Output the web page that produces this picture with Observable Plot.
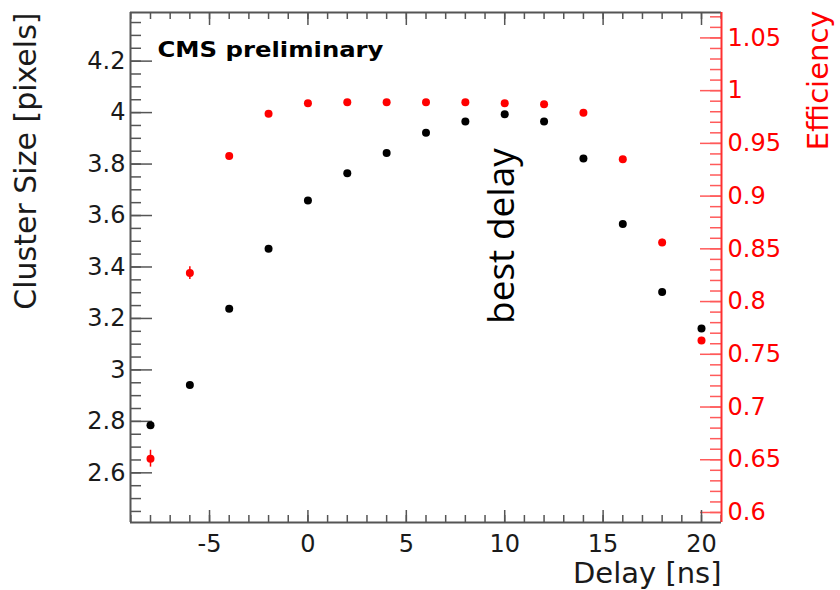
<!DOCTYPE html>
<html>
<head>
<meta charset="utf-8">
<script src="https://cdn.jsdelivr.net/npm/d3@7"></script>
<script src="https://cdn.jsdelivr.net/npm/@observablehq/plot@0.6"></script>
<style>
  html, body { margin: 0; padding: 0; background: #ffffff; }
  #chart { width: 840px; height: 590px; }
</style>
</head>
<body>
<div id="chart"></div>
<script>
// ---- data ----
const delay = [-8, -6, -4, -2, 0, 2, 4, 6, 8, 10, 12, 14, 16, 18, 20];
const clusterSize = [2.785, 2.941, 3.238, 3.471, 3.658, 3.764, 3.843, 3.922, 3.965, 3.994, 3.965, 3.822, 3.567, 3.303, 3.161];
const efficiency = [0.651, 0.827, 0.938, 0.978, 0.988, 0.989, 0.989, 0.989, 0.989, 0.988, 0.987, 0.979, 0.935, 0.856, 0.763];
const efficiencyErr = [0.008, 0.006, 0.002, 0.001, 0, 0, 0, 0, 0, 0, 0, 0.001, 0.002, 0.003, 0.003];

// ---- axes ----
const xDomain = [-9.016, 21.016];
const clusterDomain = [2.407, 4.389];
const effDomain = [0.5905, 1.0741];
const xTicks = [-5, 0, 5, 10, 15, 20];
const xTickLabels = ["-5", "0", "5", "10", "15", "20"];
const clusterTicks = [2.6, 2.8, 3, 3.2, 3.4, 3.6, 3.8, 4, 4.2];
const clusterTickLabels = ["2.6", "2.8", "3", "3.2", "3.4", "3.6", "3.8", "4", "4.2"];
const effTicks = [0.6, 0.65, 0.7, 0.75, 0.8, 0.85, 0.9, 0.95, 1, 1.05];
const effTickLabels = ["0.6", "0.65", "0.7", "0.75", "0.8", "0.85", "0.9", "0.95", "1", "1.05"];
const xTitle = ["Delay [ns]"];
const yTitle = ["Cluster Size [pixels]"];
const effTitle = ["Efficiency"];
const cmsLabel = ["CMS preliminary"];
const annotation = [{label: "best delay", delay: 10.45, size: 3.52}];

// minor tick positions (axis decoration)
const xMinor = d3.range(-9, 22, 1);
const clusterMinor = d3.range(2.45, 4.389, 0.05).map(v => +v.toFixed(2));
const effMinor = d3.range(0.6, 1.0741, 0.01).map(v => +v.toFixed(2));

// map efficiency onto the cluster-size scale (secondary axis)
const effToY = e => clusterDomain[0] + (e - effDomain[0]) * (clusterDomain[1] - clusterDomain[0]) / (effDomain[1] - effDomain[0]);

const points = delay.map((d, i) => ({
  delay: d,
  size: clusterSize[i],
  eff: efficiency[i],
  effLo: efficiency[i] - efficiencyErr[i],
  effHi: efficiency[i] + efficiencyErr[i]
}));

const W = 840, H = 590;
const mL = 130, mR = 119, mT = 12, mB = 68;
const PW = W - mL - mR, PH = H - mT - mB;
const axisGray = "#555555";
const red = "#ff0000";

const chart = Plot.plot({
  width: W,
  height: H,
  marginLeft: mL,
  marginRight: mR,
  marginTop: mT,
  marginBottom: mB,
  x: {domain: xDomain, axis: null},
  y: {domain: clusterDomain, axis: null},
  style: {fontFamily: "DejaVu Sans", background: "#ffffff", color: "#111"},
  marks: [
    // ticks: left (inward)
    Plot.tickY(clusterMinor, {y: d => d, insetRight: PW - 11, stroke: axisGray, strokeWidth: 1.5}),
    Plot.tickY(clusterTicks, {y: d => d, insetRight: PW - 22, stroke: axisGray, strokeWidth: 1.5}),
    // ticks: right (inward, red)
    Plot.tickY(effMinor, {y: d => effToY(d), insetLeft: PW - 11, stroke: "#ff5a5a", strokeWidth: 1.5}),
    Plot.tickY(effTicks, {y: d => effToY(d), insetLeft: PW - 21, stroke: "#ff5a5a", strokeWidth: 1.5}),
    // ticks: bottom and top
    Plot.tickX(xMinor, {x: d => d, insetTop: PH - 7, stroke: axisGray, strokeWidth: 1.5}),
    Plot.tickX(xTicks, {x: d => d, insetTop: PH - 12, stroke: axisGray, strokeWidth: 1.5}),
    Plot.tickX(xMinor, {x: d => d, insetBottom: PH - 7, stroke: axisGray, strokeWidth: 1.5}),
    Plot.tickX(xTicks, {x: d => d, insetBottom: PH - 13, stroke: axisGray, strokeWidth: 1.5}),
    // frame
    Plot.ruleY([clusterDomain[0]], {stroke: axisGray, strokeWidth: 2}),
    Plot.ruleY([clusterDomain[1]], {stroke: axisGray, strokeWidth: 2}),
    Plot.ruleX([xDomain[0]], {stroke: axisGray, strokeWidth: 2}),
    Plot.ruleX([xDomain[1]], {stroke: "#ff3030", strokeWidth: 2}),
    // tick labels
    Plot.text(clusterTicks, {y: d => d, text: (d, i) => clusterTickLabels[i], frameAnchor: "left", textAnchor: "end", dx: -5, fontSize: 24, fill: "#1a1a1a"}),
    Plot.text(effTicks, {y: d => effToY(d), text: (d, i) => effTickLabels[i], frameAnchor: "right", textAnchor: "start", dx: 6, fontSize: 24, fill: red}),
    Plot.text(xTicks, {x: d => d, text: (d, i) => xTickLabels[i], frameAnchor: "bottom", lineAnchor: "top", dy: 12, fontSize: 24, fill: "#1a1a1a"}),
    // axis titles
    Plot.text(xTitle, {text: d => d, frameAnchor: "bottom-right", textAnchor: "end", lineAnchor: "bottom", dy: 60, fontSize: 29, fill: "#1a1a1a"}),
    Plot.text(yTitle, {text: d => d, frameAnchor: "top-left", rotate: -90, textAnchor: "end", lineAnchor: "bottom", dx: -95, fontSize: 30, fill: "#1a1a1a"}),
    Plot.text(effTitle, {text: d => d, frameAnchor: "top-right", rotate: -90, textAnchor: "end", lineAnchor: "bottom", dx: 106, dy: -2, fontSize: 29, fill: red}),
    // labels inside the frame
    Plot.text(cmsLabel, {text: d => d, frameAnchor: "top-left", textAnchor: "start", lineAnchor: "top", dx: 27, dy: 30, fontSize: 21, fontWeight: "bold", fontFamily: "DejaVu Sans", fill: "#000"}),
    Plot.text(annotation, {x: "delay", y: "size", text: "label", rotate: -90, textAnchor: "middle", lineAnchor: "bottom", fontSize: 37, fontFamily: "Open Sans", fill: "#000"}),
    // data
    Plot.ruleX(points.filter(p => p.effHi > p.effLo), {x: "delay", y1: p => effToY(p.effLo), y2: p => effToY(p.effHi), stroke: red, strokeWidth: 1.5}),
    Plot.dot(points, {x: "delay", y: "size", r: 4, fill: "#000", stroke: null}),
    Plot.dot(points, {x: "delay", y: p => effToY(p.eff), r: 4, fill: red, stroke: null})
  ]
});

// stretch the bold label to match the reference's wide glyphs
chart.querySelectorAll("text").forEach(t => {
  if (t.textContent === cmsLabel[0]) {
    t.setAttribute("textLength", 226);
    t.setAttribute("lengthAdjust", "spacingAndGlyphs");
  }
});

document.getElementById("chart").appendChild(chart);
</script>
</body>
</html>
